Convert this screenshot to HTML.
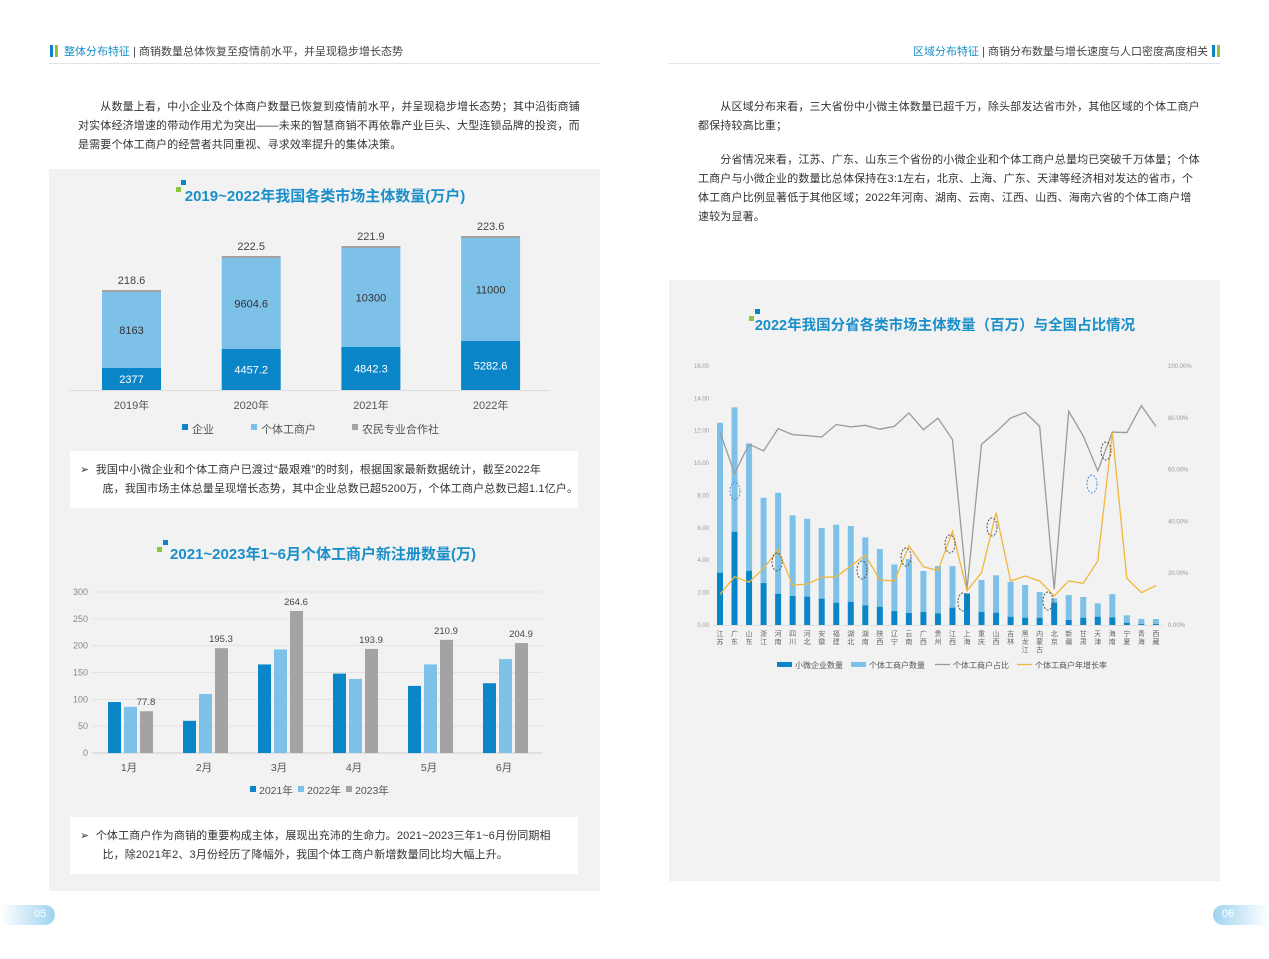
<!DOCTYPE html>
<html><head><meta charset="utf-8"><style>
body{margin:0;width:1269px;height:959px;background:#fff;position:relative;overflow:hidden;font-family:"Liberation Sans","Noto Sans CJK SC",sans-serif;}
.a{position:absolute;white-space:nowrap;}
.p{font-size:11px;color:#333;line-height:19px;letter-spacing:0.15px;}
svg text{font-family:"Liberation Sans","Noto Sans CJK SC",sans-serif;}
</style></head><body>
<div class="a" style="left:50px;top:45px;width:3px;height:12px;background:#0a86c8"></div>
<div class="a" style="left:55px;top:45px;width:3px;height:12px;background:#8cc63f"></div>
<div class="a" style="left:64px;top:43px;font-size:11px;color:#1a8fc9">整体分布特征 <span style="color:#444">| 商销数量总体恢复至疫情前水平，并呈现稳步增长态势</span></div>
<div class="a" style="left:49px;top:63px;width:551px;height:1px;background:#e3e3e3"></div>
<div class="a" style="left:1212px;top:45px;width:3px;height:12px;background:#0a86c8"></div>
<div class="a" style="left:1217px;top:45px;width:3px;height:12px;background:#8cc63f"></div>
<div class="a" style="right:61px;top:43px;font-size:11px;color:#1a8fc9">区域分布特征 <span style="color:#444">| 商销分布数量与增长速度与人口密度高度相关</span></div>
<div class="a" style="left:669px;top:63px;width:551px;height:1px;background:#e3e3e3"></div>
<div class="a p" style="left:78px;top:98px;">　　从数量上看，中小企业及个体商户数量已恢复到疫情前水平，并呈现稳步增长态势；其中沿街商铺<br>对实体经济增速的带动作用尤为突出——未来的智慧商销不再依靠产业巨头、大型连锁品牌的投资，而<br>是需要个体工商户的经营者共同重视、寻求效率提升的集体决策。</div>
<div class="a p" style="left:698px;top:98px;">　　从区域分布来看，三大省份中小微主体数量已超千万，除头部发达省市外，其他区域的个体工商户<br>都保持较高比重；</div>
<div class="a p" style="left:698px;top:151px;">　　分省情况来看，江苏、广东、山东三个省份的小微企业和个体工商户总量均已突破千万体量；个体<br>工商户与小微企业的数量比总体保持在3:1左右，北京、上海、广东、天津等经济相对发达的省市，个<br>体工商户比例显著低于其他区域；2022年河南、湖南、云南、江西、山西、海南六省的个体工商户增<br>速较为显著。</div>
<div class="a" style="left:49px;top:169px;width:551px;height:722px;background:#f2f2f2"></div>
<div class="a" style="left:70px;top:451px;width:508px;height:57px;background:#fff"></div>
<div class="a p" style="left:80px;top:461px;">➢&nbsp; 我国中小微企业和个体工商户已渡过“最艰难”的时刻，根据国家最新数据统计，截至2022年<br>&nbsp;&nbsp;&nbsp;&nbsp;&nbsp;&nbsp;&nbsp;底，我国市场主体总量呈现增长态势，其中企业总数已超5200万，个体工商户总数已超1.1亿户。</div>
<div class="a" style="left:70px;top:817px;width:508px;height:57px;background:#fff"></div>
<div class="a p" style="left:80px;top:827px;">➢&nbsp; 个体工商户作为商销的重要构成主体，展现出充沛的生命力。2021~2023三年1~6月份同期相<br>&nbsp;&nbsp;&nbsp;&nbsp;&nbsp;&nbsp;&nbsp;比，除2021年2、3月份经历了降幅外，我国个体工商户新增数量同比均大幅上升。</div>
<svg class="a" style="left:0;top:0" width="640" height="959" id="L"></svg>
<div class="a" style="left:669px;top:280px;width:551px;height:601px;background:#f2f2f2"></div>
<svg class="a" style="left:0;top:0" width="1269" height="959" id="R"></svg>
<div class="a" style="left:0;top:905px;width:55px;height:20px;background:linear-gradient(90deg,#fff,#9fd3f0);border-radius:0 10px 10px 0"></div>
<div class="a" style="left:34px;top:908px;font-size:11px;color:#fff">05</div>
<div class="a" style="left:1213px;top:905px;width:56px;height:20px;background:linear-gradient(90deg,#9fd3f0,#fff);border-radius:10px 0 0 10px"></div>
<div class="a" style="left:1222px;top:908px;font-size:11px;color:#fff">06</div>
<script>
const D="#0a86c8",LB="#7dc0e8",G="#a3a3a3";
let L='';
L+=`<rect x="176" y="187" width="5" height="5" fill="#8cc63f"/><rect x="181" y="180" width="5" height="5" fill="#0a86c8"/>`;
L+=`<text x="325" y="201" font-size="15" font-weight="bold" fill="#1a8fc9" text-anchor="middle">2019~2022年我国各类市场主体数量(万户)</text>`;
const c1=[[102,368,292,'218.6','8163','2377'],[221,349,258,'222.5','9604.6','4457.2'],[340,347,248,'221.9','10300','4842.3'],[459,341,238,'223.6','11000','5282.6']];
const yr=['2019年','2020年','2021年','2022年'];
L+=`<line x1="70" y1="390.5" x2="550" y2="390.5" stroke="#ddd"/>`;
c1.forEach((b,i)=>{const x=b[0]+i*0.7,w=59,cx=x+w/2;
L+=`<rect x="${x}" y="${b[2]-2}" width="${w}" height="2" fill="${G}"/><rect x="${x}" y="${b[2]}" width="${w}" height="${b[1]-b[2]}" fill="${LB}"/><rect x="${x}" y="${b[1]}" width="${w}" height="${390-b[1]}" fill="${D}"/>`;
L+=`<text x="${cx}" y="${b[2]-8}" font-size="11" fill="#444" text-anchor="middle">${b[3]}</text>`;
L+=`<text x="${cx}" y="${(b[1]+b[2])/2+4}" font-size="11" fill="#333" text-anchor="middle">${b[4]}</text>`;
L+=`<text x="${cx}" y="${(b[1]+390)/2+4}" font-size="11" fill="#fff" text-anchor="middle">${b[5]}</text>`;
L+=`<text x="${cx}" y="409" font-size="11" fill="#555" text-anchor="middle">${yr[i]}</text>`;});
L+=`<rect x="182" y="424" width="6" height="6" fill="${D}"/><text x="192" y="433" font-size="11" fill="#555">企业</text>`;
L+=`<rect x="251" y="424" width="6" height="6" fill="${LB}"/><text x="261" y="433" font-size="11" fill="#555">个体工商户</text>`;
L+=`<rect x="352" y="424" width="6" height="6" fill="${G}"/><text x="362" y="433" font-size="11" fill="#555">农民专业合作社</text>`;
L+=`<rect x="157" y="547" width="5" height="5" fill="#8cc63f"/><rect x="163" y="540" width="5" height="5" fill="#0a86c8"/>`;
L+=`<text x="323" y="559" font-size="15" font-weight="bold" fill="#1a8fc9" text-anchor="middle">2021~2023年1~6月个体工商户新注册数量(万)</text>`;
for(let v=0;v<=300;v+=50){const y=753-v*0.5367;L+=`<line x1="92" y1="${y}" x2="542" y2="${y}" stroke="${v?'#e2e2e2':'#ccc'}"/><text x="88" y="${y+3}" font-size="9" fill="#888" text-anchor="end">${v}</text>`;}
const c2=[[95,86,77.8],[60,110,195.3],[165,193,264.6],[148,138,193.9],[125,165,210.9],[130,175,204.9]];
c2.forEach((g,i)=>{const x0=108+75*i;[D,LB,G].forEach((c,j)=>{const h=g[j]*0.5367;L+=`<rect x="${x0+j*16}" y="${753-h}" width="13" height="${h}" fill="${c}"/>`;});
L+=`<text x="${x0+38}" y="${753-g[2]*0.5367-6}" font-size="9.5" fill="#444" text-anchor="middle">${g[2]}</text>`;
L+=`<text x="${x0+21}" y="771" font-size="10.5" fill="#555" text-anchor="middle">${i+1}月</text>`;});
L+=`<rect x="250" y="786" width="6" height="6" fill="${D}"/><text x="259" y="794" font-size="10.5" fill="#555">2021年</text>`;
L+=`<rect x="298" y="786" width="6" height="6" fill="${LB}"/><text x="307" y="794" font-size="10.5" fill="#555">2022年</text>`;
L+=`<rect x="346" y="786" width="6" height="6" fill="${G}"/><text x="355" y="794" font-size="10.5" fill="#555">2023年</text>`;
document.getElementById('L').innerHTML=L;
let R='';
R+=`<rect x="749" y="316" width="5" height="5" fill="#8cc63f"/><rect x="755" y="309" width="5" height="5" fill="#0a86c8"/>`;
R+=`<text x="945" y="330" font-size="14.5" font-weight="bold" fill="#1a8fc9" text-anchor="middle">2022年我国分省各类市场主体数量（百万）与全国占比情况</text>`;
const y0=625,k=16.19;
for(let v=0;v<=16;v+=2){const y=y0-v*k;R+=`<text x="709" y="${y+2}" font-size="6" fill="#999" text-anchor="end">${v.toFixed(2)}</text>`;}
for(let p=0;p<=100;p+=20){const y=y0-p*2.59;R+=`<text x="1168" y="${y+2}" font-size="6" fill="#999">${p.toFixed(2)}%</text>`;}
const tot=[12.49,13.44,11.21,7.86,8.17,6.77,6.56,5.99,6.19,6.11,5.41,4.69,3.74,4.07,3.33,3.64,3.64,1.95,2.78,3.07,2.67,2.47,2.04,1.65,1.85,1.73,1.34,1.91,0.6,0.37,0.37];
const dk=[3.23,5.76,3.35,2.59,1.93,1.79,1.75,1.63,1.38,1.42,1.21,1.13,0.86,0.74,0.8,0.72,1.07,1.95,0.8,0.76,0.51,0.45,0.45,1.38,0.31,0.45,0.51,0.47,0.14,0.06,0.06];
const gp=[74.5,58.5,69.8,67.2,75.8,73.5,73.1,72.6,77.4,76.5,77.1,75.6,76.7,81.9,75.4,79.9,71.6,13.8,69.8,74.5,79.9,82.1,76.7,13.8,82.5,73,59.5,74.5,74.3,84.7,76.7];
const op=[11.8,18.6,16.5,21.9,28.9,15.4,15.8,18.4,18.6,22.8,27,17.4,17,30.5,22.5,21,36.2,13.2,20.2,43.4,17,18.9,17,11.2,17,16.1,24.8,74.2,18,12.5,15.2];
const nm=['江苏','广东','山东','浙江','河南','四川','河北','安徽','福建','湖北','湖南','陕西','辽宁','云南','广西','贵州','江西','上海','重庆','山西','吉林','黑龙江','内蒙古','北京','新疆','甘肃','天津','海南','宁夏','青海','西藏'];
const X=i=>720+i*14.53, P=p=>y0-p*2.59;
R+=`<line x1="713" y1="${y0+0.5}" x2="1163" y2="${y0+0.5}" stroke="#ccc" stroke-width="0.6"/>`;
tot.forEach((t,i)=>{const x=X(i)-3;R+=`<rect x="${x}" y="${y0-t*k}" width="6" height="${(t-dk[i])*k}" fill="${LB}"/><rect x="${x}" y="${y0-dk[i]*k}" width="6" height="${dk[i]*k}" fill="${D}"/>`;
const ch=nm[i].split('');ch.forEach((c,j)=>{R+=`<text x="${X(i)}" y="${636+j*8}" font-size="7" fill="#666" text-anchor="middle">${c}</text>`;});});
R+=`<polyline fill="none" stroke="#9a9a9a" stroke-width="1.3" points="${gp.map((p,i)=>X(i)+','+P(p)).join(' ')}"/>`;
R+=`<polyline fill="none" stroke="#f0b73c" stroke-width="1.3" points="${op.map((p,i)=>X(i)+','+P(p)).join(' ')}"/>`;
[[735,491,'#4a90d9'],[777,562,'#555'],[862,570,'#555'],[906,557,'#555'],[950,544,'#555'],[992,527,'#555'],[963,602,'#555'],[1048,601,'#555'],[1092,484,'#4a90d9'],[1106,451,'#555']].forEach(e=>{R+=`<ellipse cx="${e[0]}" cy="${e[1]}" rx="5" ry="9" fill="none" stroke="${e[2]}" stroke-dasharray="2,1.5" stroke-width="1"/>`;});
R+=`<rect x="777" y="662" width="15" height="5" fill="${D}"/><text x="795" y="668" font-size="8" fill="#555">小微企业数量</text>`;
R+=`<rect x="851" y="662" width="15" height="5" fill="${LB}"/><text x="869" y="668" font-size="8" fill="#555">个体工商户数量</text>`;
R+=`<line x1="935" y1="664.5" x2="950" y2="664.5" stroke="#9a9a9a" stroke-width="1.3"/><text x="953" y="668" font-size="8" fill="#555">个体工商户占比</text>`;
R+=`<line x1="1017" y1="664.5" x2="1032" y2="664.5" stroke="#f0b73c" stroke-width="1.3"/><text x="1035" y="668" font-size="8" fill="#555">个体工商户年增长率</text>`;
document.getElementById('R').innerHTML=R;
</script>
</body></html>
